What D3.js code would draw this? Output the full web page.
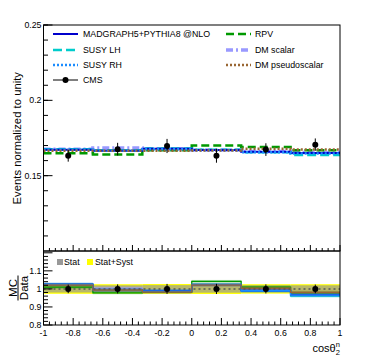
<!DOCTYPE html>
<html>
<head>
<meta charset="utf-8">
<script src="https://cdn.jsdelivr.net/npm/d3@7"></script>
<style>
  body { margin: 0; background: #fff; }
  svg { display: block; font-family: "Liberation Sans", Arial, sans-serif; }
</style>
</head>
<body>
<svg id="chart"></svg>
<script>
(function() {

// bins of cos theta_2^n
var binEdges = [-1, -2/3, -1/3, 0, 1/3, 2/3, 1];

// CMS data (normalized) and its error
var cmsData = [0.1632, 0.1676, 0.1697, 0.1632, 0.1673, 0.1706];
var cmsErr  = [0.0039, 0.0042, 0.0047, 0.0046, 0.0042, 0.0041];

// predictions
var madgraph = [0.1672, 0.1665, 0.1678, 0.1670, 0.1658, 0.1650];
var susyLH   = [0.1676, 0.1668, 0.1680, 0.1672, 0.1655, 0.1638];
var susyRH   = [0.1672, 0.1666, 0.1676, 0.1668, 0.1656, 0.1647];
var rpv      = [0.1648, 0.1640, 0.1668, 0.1700, 0.1690, 0.1668];
var dmScalar = [0.1676, 0.1684, 0.1678, 0.1670, 0.1660, 0.1653];
var dmPseudo = [0.1666, 0.1666, 0.1666, 0.1667, 0.1679, 0.1674];

// ratio panel bands (relative)
var statBand = [0.020, 0.020, 0.021, 0.021, 0.020, 0.020];
var totBand  = [0.027, 0.026, 0.027, 0.028, 0.026, 0.026];

var xTicks = [-1, -0.8, -0.6, -0.4, -0.2, 0, 0.2, 0.4, 0.6, 0.8, 1];
var yTicks = [0.15, 0.2, 0.25];
var rTicks = [0.8, 0.9, 1, 1.1];

var series = [
  {name: "DM scalar",      vals: dmScalar, color: "#9999ff", width: 3.5, dash: "7,3,2,3", col: 1, row: 1},
  {name: "RPV",            vals: rpv,      color: "#009900", width: 2.5, dash: "8,4",     col: 1, row: 0},
  {name: "SUSY LH",        vals: susyLH,   color: "#00cccc", width: 2.5, dash: "9,4",     col: 0, row: 1},
  {name: "MADGRAPH5+PYTHIA8 @NLO", vals: madgraph, color: "#0000cc", width: 2, dash: null, col: 0, row: 0},
  {name: "SUSY RH",        vals: susyRH,   color: "#1a8cff", width: 2.5, dash: "2,2",     col: 0, row: 2},
  {name: "DM pseudoscalar",vals: dmPseudo, color: "#996633", width: 2.5, dash: "2,2",     col: 1, row: 2}
];

var W = 370, H = 360;
var svg = d3.select("#chart").attr("width", W).attr("height", H);

var x = d3.scaleLinear().domain([-1, 1]).range([43.5, 340]);
var y = d3.scaleLinear().domain([0.1, 0.25]).range([251, 25]);
var yr = d3.scaleLinear().domain([0.8, 1.21]).range([325, 251]);

var fs = 8.8;

// step line over bins
function stepPath(yScale, vals) {
  var pts = binEdges.map(function(e, i) {
    return [e, vals[Math.min(i, vals.length - 1)]];
  });
  return d3.line()
    .x(function(d) { return x(d[0]); })
    .y(function(d) { return yScale(d[1]); })
    .curve(d3.curveStepAfter)(pts);
}

function centre(i) { return (binEdges[i] + binEdges[i + 1]) / 2; }

// ---------- top panel ----------
var top = svg.append("g");

series.forEach(function(s) {
  top.append("path")
    .attr("d", stepPath(y, s.vals))
    .attr("fill", "none")
    .attr("stroke", s.color)
    .attr("stroke-width", s.width)
    .attr("stroke-dasharray", s.dash);
});

var pts = top.selectAll(".pt").data(cmsData).enter().append("g");
pts.append("line")
  .attr("x1", function(d, i) { return x(centre(i)); })
  .attr("x2", function(d, i) { return x(centre(i)); })
  .attr("y1", function(d, i) { return y(d - cmsErr[i]); })
  .attr("y2", function(d, i) { return y(d + cmsErr[i]); })
  .attr("stroke", "#000").attr("stroke-width", 1);
pts.append("circle")
  .attr("cx", function(d, i) { return x(centre(i)); })
  .attr("cy", function(d) { return y(d); })
  .attr("r", 3).attr("fill", "#000");

// frame + axes (top)
top.append("rect")
  .attr("x", x(-1)).attr("y", y(0.25))
  .attr("width", x(1) - x(-1)).attr("height", y(0.1) - y(0.25))
  .attr("fill", "none").attr("stroke", "#000").attr("stroke-width", 1);

var yMinor = d3.range(0.11, 0.25, 0.01);
top.selectAll(".ymin").data(yMinor).enter().append("line")
  .attr("x1", x(-1)).attr("x2", x(-1) + 4.5)
  .attr("y1", function(d) { return y(d); }).attr("y2", function(d) { return y(d); })
  .attr("stroke", "#000");
top.selectAll(".ymaj").data(yTicks).enter().append("line")
  .attr("x1", x(-1)).attr("x2", x(-1) + 9)
  .attr("y1", function(d) { return y(d); }).attr("y2", function(d) { return y(d); })
  .attr("stroke", "#000");
top.selectAll(".ylab").data(yTicks).enter().append("text")
  .attr("x", x(-1) - 2).attr("y", function(d) { return y(d); })
  .attr("dy", "0.35em").attr("text-anchor", "end")
  .attr("font-size", fs)
  .text(function(d) { return d; });

var xMinor = d3.range(0, 51).map(function(i) { return -1 + i * 0.04; });
top.selectAll(".xmin").data(xMinor).enter().append("line")
  .attr("x1", function(d) { return x(d); }).attr("x2", function(d) { return x(d); })
  .attr("y1", y(0.1)).attr("y2", function(d, i) { return y(0.1) - (i % 5 === 0 ? 6 : 3); })
  .attr("stroke", "#000");

svg.append("text")
  .attr("transform", "translate(21,72) rotate(-90)")
  .attr("text-anchor", "end")
  .attr("font-size", 11.3)
  .text("Events normalized to unity");

// legend
var legend = svg.append("g").attr("font-size", fs);
var colX = [53, 226], colT = [83, 255], rowY = [34, 50, 65, 80];
series.forEach(function(s) {
  legend.append("line")
    .attr("x1", colX[s.col]).attr("x2", colX[s.col] + 25)
    .attr("y1", rowY[s.row]).attr("y2", rowY[s.row])
    .attr("stroke", s.color)
    .attr("stroke-width", s.width)
    .attr("stroke-dasharray", s.dash);
  legend.append("text")
    .attr("x", colT[s.col]).attr("y", rowY[s.row]).attr("dy", "0.35em")
    .text(s.name);
});
legend.append("line")
  .attr("x1", colX[0]).attr("x2", colX[0] + 25)
  .attr("y1", rowY[3]).attr("y2", rowY[3]).attr("stroke", "#000");
legend.append("circle").attr("cx", colX[0] + 12.5).attr("cy", rowY[3]).attr("r", 3);
legend.append("text")
  .attr("x", colT[0]).attr("y", rowY[3]).attr("dy", "0.35em").text("CMS");

// ---------- ratio panel ----------
var rp = svg.append("g");

function bandRects(cls, arr, color, op) {
  rp.selectAll("." + cls).data(arr).enter().append("rect")
    .attr("x", function(d, i) { return x(binEdges[i]); })
    .attr("width", function(d, i) { return x(binEdges[i + 1]) - x(binEdges[i]); })
    .attr("y", function(d) { return yr(1 + d); })
    .attr("height", function(d) { return yr(1 - d) - yr(1 + d); })
    .attr("fill", color).attr("fill-opacity", op);
}
bandRects("tot", totBand, "#ffff00", 1);
bandRects("stat", statBand, "#999999", 0.7);

series.forEach(function(s) {
  var ratio = s.vals.map(function(v, i) { return v / cmsData[i]; });
  rp.selectAll(".b").data(ratio).enter().append("rect")
    .attr("x", function(d, i) { return x(binEdges[i]); })
    .attr("width", function(d, i) { return x(binEdges[i + 1]) - x(binEdges[i]); })
    .attr("y", function(d) { return yr(d + 0.008); })
    .attr("height", function(d) { return yr(d - 0.008) - yr(d + 0.008); })
    .attr("fill", s.color).attr("fill-opacity", 0.3);
  rp.append("path")
    .attr("d", stepPath(yr, ratio))
    .attr("fill", "none")
    .attr("stroke", s.color)
    .attr("stroke-width", 1.3);
});

rp.append("line")
  .attr("x1", x(-1)).attr("x2", x(1))
  .attr("y1", yr(1)).attr("y2", yr(1))
  .attr("stroke", "#555").attr("stroke-width", 1.5).attr("stroke-dasharray", "2,3");

var rpts = rp.selectAll(".rpt").data(cmsData).enter().append("g");
rpts.append("line")
  .attr("x1", function(d, i) { return x(centre(i)); })
  .attr("x2", function(d, i) { return x(centre(i)); })
  .attr("y1", function(d, i) { return yr(1 - cmsErr[i] / d); })
  .attr("y2", function(d, i) { return yr(1 + cmsErr[i] / d); })
  .attr("stroke", "#000").attr("stroke-width", 1);
rpts.append("circle")
  .attr("cx", function(d, i) { return x(centre(i)); })
  .attr("cy", yr(1)).attr("r", 3).attr("fill", "#000");

rp.append("rect")
  .attr("x", x(-1)).attr("y", yr(1.21))
  .attr("width", x(1) - x(-1)).attr("height", yr(0.8) - yr(1.21))
  .attr("fill", "none").attr("stroke", "#000").attr("stroke-width", 1);

var rMinor = d3.range(0, 21).map(function(i) { return 0.8 + i * 0.02; });
rp.selectAll(".rmin").data(rMinor).enter().append("line")
  .attr("x1", x(-1)).attr("x2", function(d, i) { return x(-1) + (i % 5 === 0 ? 9 : 4.5); })
  .attr("y1", function(d) { return yr(d); }).attr("y2", function(d) { return yr(d); })
  .attr("stroke", "#000");
rp.selectAll(".rlab").data(rTicks).enter().append("text")
  .attr("x", x(-1) - 2).attr("y", function(d) { return yr(d); })
  .attr("dy", "0.35em").attr("text-anchor", "end")
  .attr("font-size", fs)
  .text(function(d) { return d; });

rp.selectAll(".rxmin").data(xMinor).enter().append("line")
  .attr("x1", function(d) { return x(d); }).attr("x2", function(d) { return x(d); })
  .attr("y1", yr(0.8)).attr("y2", function(d, i) { return yr(0.8) - (i % 5 === 0 ? 7 : 3.5); })
  .attr("stroke", "#000");
rp.selectAll(".xlab").data(xTicks).enter().append("text")
  .attr("x", function(d) { return x(d); }).attr("y", yr(0.8) + 11)
  .attr("text-anchor", "middle")
  .attr("font-size", fs)
  .text(function(d) { return String(+d.toFixed(1)); });

// ratio legend
var rl = rp.append("g").attr("font-size", fs);
rl.append("rect").attr("x", 57).attr("y", 259).attr("width", 6).attr("height", 6).attr("fill", "#999");
rl.append("text").attr("x", 64).attr("y", 262).attr("dy", "0.35em").text("Stat");
rl.append("rect").attr("x", 87).attr("y", 259).attr("width", 6).attr("height", 6).attr("fill", "#ffff00");
rl.append("text").attr("x", 95).attr("y", 262).attr("dy", "0.35em").text("Stat+Syst");

// ratio y title
var rt = svg.append("g").attr("transform", "translate(0,288) rotate(-90)").attr("font-size", 11.5);
rt.append("text").attr("x", 0).attr("y", 16.5).attr("text-anchor", "middle").text("MC");
rt.append("line").attr("x1", -12.5).attr("x2", 12.5).attr("y1", 18).attr("y2", 18).attr("stroke", "#000");
rt.append("text").attr("x", 0).attr("y", 27.5).attr("text-anchor", "middle").text("Data");

// x title
var xt = svg.append("text").attr("x", 340).attr("y", 352).attr("text-anchor", "end").attr("font-size", 11);
xt.append("tspan").text("cos\u03b8");
xt.append("tspan").attr("font-size", 7.5).attr("dy", 3).text("2");
xt.append("tspan").attr("font-size", 7.5).attr("dx", -4).attr("dy", -8).text("n");

})();
</script>
</body>
</html>
